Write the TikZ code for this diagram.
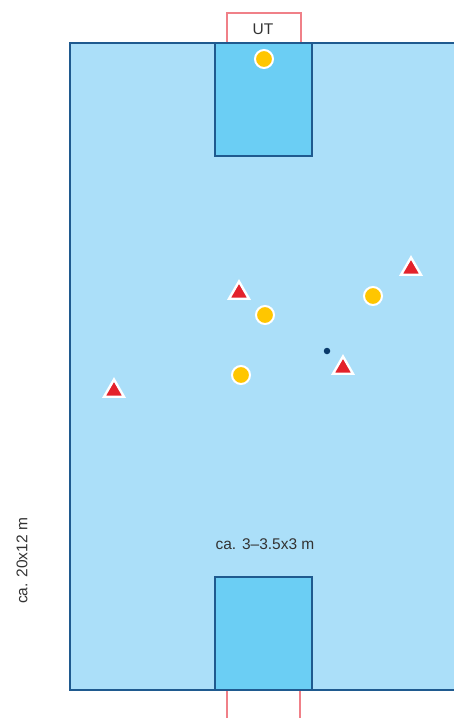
\documentclass[tikz,border=0pt]{standalone}
\usepackage{fontspec}
\setmainfont{Liberation Sans}
\usetikzlibrary{shapes.geometric}
\definecolor{field}{HTML}{ABDFF9}
\definecolor{goalc}{HTML}{6BCEF4}
\definecolor{edge}{HTML}{1F5A8F}
\definecolor{pinkc}{HTML}{F08088}
\definecolor{yel}{HTML}{FFC600}
\definecolor{redc}{HTML}{E3222B}
\definecolor{navy}{HTML}{0A3A6B}
\definecolor{txt}{HTML}{333333}
\tikzset{
  player/.style={circle,fill=yel,draw=white,line width=2pt,minimum size=18pt,inner sep=0pt},
  cone/.style={regular polygon,regular polygon sides=3,fill=redc,draw=white,line width=2.4pt,minimum size=23pt,inner sep=0pt},
  ball/.style={circle,fill=navy,minimum size=6.5pt,inner sep=0pt},
  lbl/.style={text=txt,font=\fontsize{15.5}{18}\selectfont,inner sep=0pt},
}
\begin{document}
\begin{tikzpicture}[x=1pt,y=-1pt]
\useasboundingbox (0,0) rectangle (454,718);
% UT box and bottom lines
\draw[pinkc,line width=1.2pt] (227,43) -- (227,13) -- (301,13) -- (301,43);
\coordinate (bl1) at (227,690); \coordinate (bl2) at (227,718);
\coordinate (br1) at (300,690); \coordinate (br2) at (300,718);
\draw[pinkc,line width=1.2pt] (bl1) -- (bl2) (br1) -- (br2);
\node[lbl] (ut) at (263,29) {UT};
% field
\fill[field] (70,43) rectangle (460,690);
\draw[edge,line width=1.5pt] (460,43) -- (70,43) -- (70,690) -- (460,690);
% goal areas
\draw[edge,fill=goalc,line width=1.5pt] (215,43) rectangle (312,156);
\draw[edge,fill=goalc,line width=1.5pt] (215,577) rectangle (312,690);
% players
\node[player] (p1) at (264,59) {};
\node[player] (p2) at (265,315) {};
\node[player] (p3) at (373,296) {};
\node[player] (p4) at (241,375) {};
% cones
\node[cone] (c1) at (239,293) {};
\node[cone] (c2) at (411,269) {};
\node[cone] (c3) at (343,368) {};
\node[cone] (c4) at (114,391) {};
% ball
\node[ball] (b) at (327,351) {};
% labels
\node[lbl] (size) at (265,544) {ca. 3–3.5x3 m};
\node[lbl,rotate=90] (fsize) at (22,561) {ca. 20x12 m};
\end{tikzpicture}
\end{document}
